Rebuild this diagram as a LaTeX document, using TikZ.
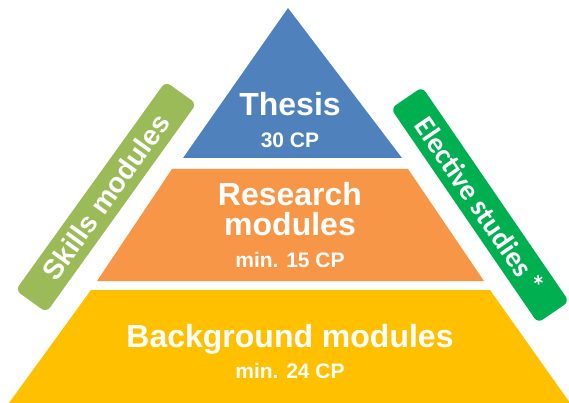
\documentclass[tikz,border=0pt]{standalone}
\usepackage{fontspec}
\setmainfont{Liberation Sans}
\newfontfamily\calib{Carlito}
\definecolor{thesisblue}{HTML}{4F81BD}
\definecolor{resorange}{HTML}{F79646}
\definecolor{bgyellow}{HTML}{FFC000}
\definecolor{skillgreen}{HTML}{9BBB59}
\definecolor{electgreen}{HTML}{00B050}
\begin{document}
\begin{tikzpicture}[x=1pt,y=-1pt,
  bigtext/.style={text=white, font=\bfseries\fontsize{32}{30}\selectfont, anchor=base, inner sep=0pt},
  smalltext/.style={text=white, font=\bfseries\fontsize{21}{21}\selectfont, anchor=base, inner sep=0pt},
  band/.style={rounded corners=6pt, minimum height=38pt, inner sep=0pt, text=white}]
\useasboundingbox (0,0) rectangle (569,403);
\begin{scope}
\clip (0,0) rectangle (569,403);
\fill[thesisblue] (288,8) -- (402,158) -- (183,158) -- cycle;
\fill[resorange] (172,169) -- (408,169) -- (484,281) -- (97,281) -- cycle;
\fill[bgyellow] (91,290) -- (490,290) -- (570,403) -- (9,403) -- cycle;
\node[band, fill=skillgreen, minimum width=257pt, rotate=54.3,
  font=\bfseries\fontsize{28}{28}\selectfont] (skills) at (106,197) {Skills modules};
\node[band, fill=electgreen, minimum width=260pt, rotate=-55.6,
  font=\calib\bfseries\fontsize{29}{29}\selectfont] (elective) at (480,205) {Elective studies *};
\end{scope}
\node[bigtext] (thesis) at (290,116) {Thesis};
\node[smalltext] (thesiscp) at (290,148) {30 CP};
\node[bigtext] (research) at (290,205) {Research};
\node[bigtext] (researchb) at (290,235) {modules};
\node[smalltext] (researchcp) at (290,267) {min. 15 CP};
\node[bigtext] (background) at (290,347) {Background modules};
\node[smalltext] (backgroundcp) at (290,378) {min. 24 CP};
\end{tikzpicture}
\end{document}
